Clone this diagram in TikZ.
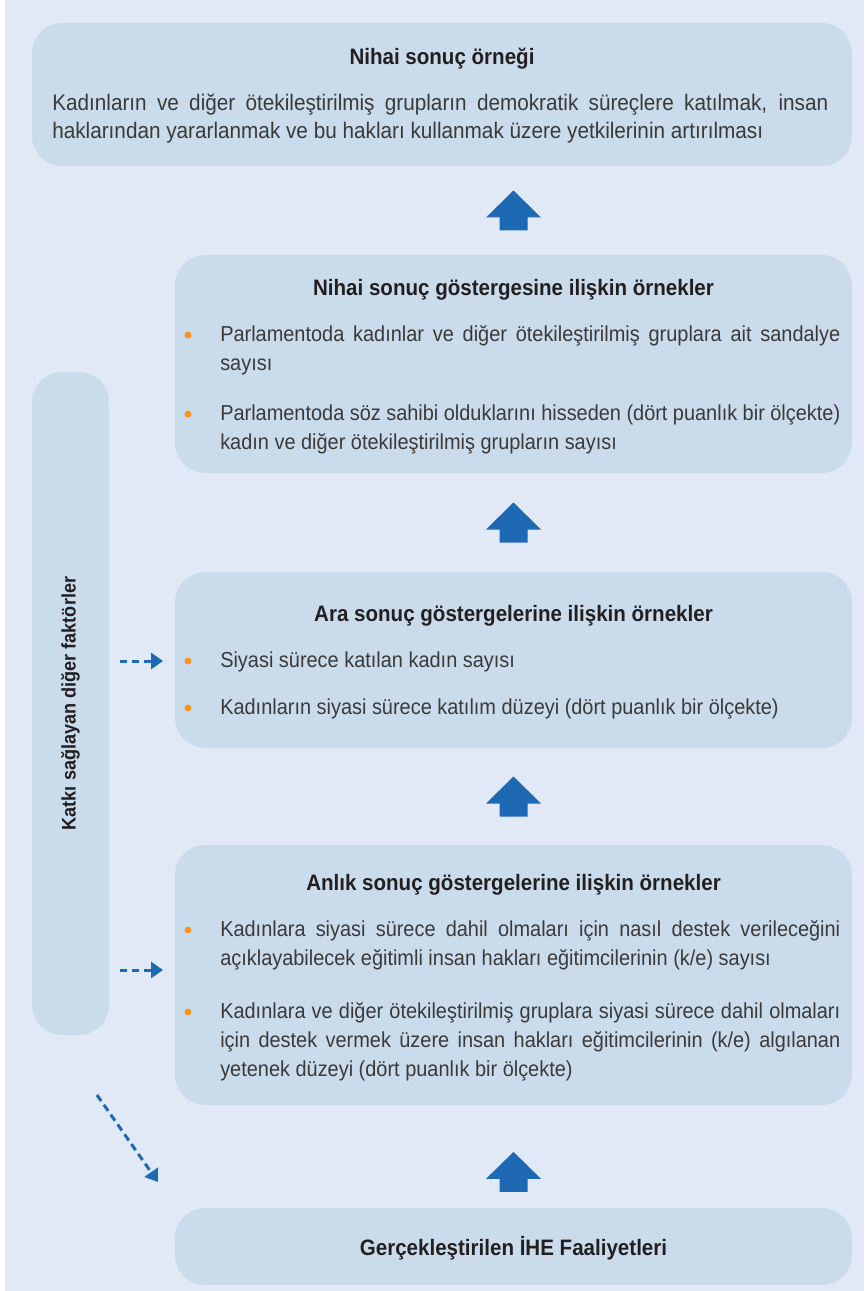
\documentclass[tikz,border=0pt]{standalone}
\usepackage{fontspec}
\setmainfont[FakeStretch=0.92]{Liberation Sans}
\usetikzlibrary{positioning,calc,arrows.meta}

\definecolor{pagebg}{HTML}{E1E9F6}
\definecolor{boxbg}{HTML}{CADCEC}
\definecolor{arrowblue}{HTML}{1E69B4}
\definecolor{dotorange}{HTML}{F7931E}
\definecolor{bodygray}{HTML}{3A3A3A}
\definecolor{headblack}{HTML}{231F20}

\tikzset{
  panel/.style={fill=boxbg, rounded corners=22.5pt, inner sep=0},
  heading/.style={font=\fontsize{16.75pt}{19pt}\selectfont\bfseries, text=headblack, inner sep=0, anchor=base},
  body/.style={font=\fontsize{16.25pt}{21.75pt}\selectfont, text=bodygray, align=justify, inner sep=0,
    anchor=base west, text width=465pt, execute at begin node={\hyphenpenalty=10000\relax}},
  dot/.style={circle, fill=dotorange, inner sep=0, minimum size=5.25pt},
  dasharrow/.style={arrowblue, line width=2.25pt, dash pattern=on 5.5pt off 3.5pt, -{Triangle[length=9pt,width=12pt]}},
}

\newcommand\blockup[1]{%
  \fill[arrowblue] ($(#1)+(-14,20)$) -- ++(0,-13) -- ++(-13.5,0) -- ($(#1)+(0,-20)$)
    -- ($(#1)+(27.5,7)$) -- ++(-13.5,0) -- ++(0,13) -- cycle;}

\begin{document}
\begin{tikzpicture}[x=0.75pt,y=-0.75pt]

% Page
\fill[white] (0,0) rectangle (864,1291);
\fill[pagebg] (5,0) rectangle (864,1291);
\useasboundingbox (0,0) rectangle (864,1291);

% Panels
\node[panel, minimum width=615pt, minimum height=107.25pt] (goal) at (442,94.5) {};
\node[panel, minimum width=507.75pt, minimum height=163.5pt] (fin) at (513.5,364) {};
\node[panel, minimum width=507.75pt, minimum height=132pt] (inter) at (513.5,660) {};
\node[panel, minimum width=507.75pt, minimum height=195pt] (imm) at (513.5,975) {};
\node[panel, minimum width=507.75pt, minimum height=57.75pt] (act) at (513.5,1246.5) {};
\node[panel, minimum width=57.75pt, minimum height=497.25pt] (bar) at (70.5,703.5) {};

% Nihai sonuc
\node[heading] (goalhead) at (442,65) {Nihai sonuç örneği};
\node[body, text width=582pt, font=\fontsize{16.9pt}{21pt}\selectfont] (goaltext) at (52,111)
  {Kadınların ve diğer ötekileştirilmiş grupların demokratik süreçlere katılmak, insan\linebreak
   haklarından yararlanmak ve bu hakları kullanmak üzere yetkilerinin artırılması};

% Nihai sonuc gostergesi
\node[heading] (finhead) at (513.5,296) {Nihai sonuç göstergesine ilişkin örnekler};
\node[dot] (d21) at (188,335) {};
\node[body] (fin1) at (220,341)
  {Parlamentoda kadınlar ve diğer ötekileştirilmiş gruplara ait sandalye\linebreak sayısı};
\node[dot] (d22) at (188,414) {};
\node[body] (fin2) at (220,420)
  {Parlamentoda söz sahibi olduklarını hisseden (dört puanlık bir ölçekte)\linebreak
   kadın ve diğer ötekileştirilmiş grupların sayısı};

% Ara sonuc
\node[heading] (interhead) at (513.5,621) {Ara sonuç göstergelerine ilişkin örnekler};
\node[dot] (d31) at (188,661) {};
\node[body] (inter1) at (220,667) {Siyasi sürece katılan kadın sayısı};
\node[dot] (d32) at (188,708) {};
\node[body] (inter2) at (220,714)
  {Kadınların siyasi sürece katılım düzeyi (dört puanlık bir ölçekte)};

% Anlik sonuc
\node[heading] (immhead) at (513.5,890) {Anlık sonuç göstergelerine ilişkin örnekler};
\node[dot] (d41) at (188,930) {};
\node[body] (imm1) at (220,936)
  {Kadınlara siyasi sürece dahil olmaları için nasıl destek verileceğini\linebreak
   açıklayabilecek eğitimli insan hakları eğitimcilerinin (k/e) sayısı};
\node[dot] (d42) at (188,1012) {};
\node[body] (imm2) at (220,1018)
  {Kadınlara ve diğer ötekileştirilmiş gruplara siyasi sürece dahil olmaları\linebreak
   için destek vermek üzere insan hakları eğitimcilerinin (k/e) algılanan\linebreak
   yetenek düzeyi (dört puanlık bir ölçekte)};

% Faaliyetler
\node[heading] (acthead) at (513.5,1255) {Gerçekleştirilen İHE Faaliyetleri};

% Diger faktorler
\node[heading, font=\fontsize{14.75pt}{17pt}\selectfont\bfseries, anchor=center, rotate=90]
  (barhead) at (bar.center) {Katkı sağlayan diğer faktörler};

% Block arrows
\foreach \lo/\hi/\f in {fin/goal/0.5, inter/fin/0.5, imm/inter/0.5, act/imm/0.35} {
  \coordinate (m) at ($(\lo.north)!\f!(\hi.south -| \lo.north)$);
  \blockup{m}
}

% Dashed arrows
\coordinate (f1) at (120,661);
\coordinate (t1) at (163,661);
\coordinate (f2) at (120,970);
\coordinate (t2) at (163,970);
\coordinate (f3) at (97,1095);
\coordinate (t3) at (158,1182);
\draw[dasharrow] (f1) -- (t1);
\draw[dasharrow] (f2) -- (t2);
\draw[dasharrow] (f3) -- (t3);

\end{tikzpicture}
\end{document}
